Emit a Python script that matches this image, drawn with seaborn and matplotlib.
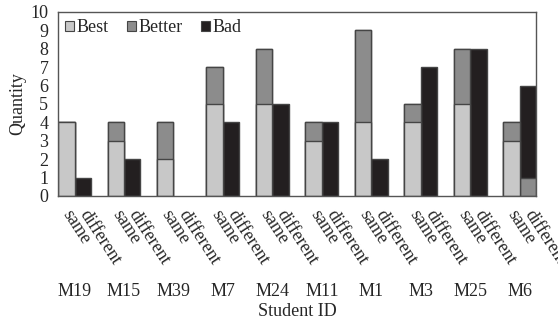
import numpy as np
import pandas as pd
import matplotlib
matplotlib.use("Agg")
import matplotlib.pyplot as plt
from matplotlib.patches import Patch
import seaborn as sns

# Student IDs and the two conditions per student
students = ['M19', 'M15', 'M39', 'M7', 'M24', 'M11', 'M1', 'M3', 'M25', 'M6']
conditions = ['same', 'different']

# counts per student: [same, different]
best = [[4, 0], [3, 0], [2, 0], [5, 0], [5, 0], [3, 0], [4, 0], [4, 0], [5, 0], [3, 0]]
better = [[0, 0], [1, 0], [2, 0], [2, 0], [3, 0], [1, 0], [5, 0], [1, 0], [3, 0], [1, 1]]
bad = [[0, 1], [0, 2], [0, 0], [0, 4], [0, 5], [0, 4], [0, 2], [0, 7], [0, 8], [0, 5]]

colors = {'Best': '#c8c8c8', 'Better': '#8c8c8c', 'Bad': '#231f20'}
edge = '#454545'

# long table, one row per bar
rows = []
for i, s in enumerate(students):
    for j, c in enumerate(conditions):
        b1, b2, b3 = best[i][j], better[i][j], bad[i][j]
        rows.append({'student': s, 'condition': c, 'pos': 3 * i + j + 0.5,
                     'Best': b1, 'Better': b1 + b2, 'Bad': b1 + b2 + b3})
df = pd.DataFrame(rows)

sns.set_style('white')
plt.rcParams['font.family'] = ['Liberation Serif', 'DejaVu Serif']
fs = 13

fig = plt.figure(figsize=(5.58, 3.2), dpi=100)
ax = fig.add_axes([0.104, 0.3875, 0.857, 0.575])

# stacked bars drawn as overlapping cumulative totals (tallest first)
for layer in ['Bad', 'Better', 'Best']:
    sns.barplot(data=df, x='pos', y=layer, native_scale=True, width=1.0,
                color=colors[layer], edgecolor=edge, linewidth=1.0,
                saturation=1, errorbar=None, ax=ax)

# empty segments get no outline
for p in ax.patches:
    if p.get_height() == 0:
        p.set_visible(False)

ax.set_xlim(0, 29)
ax.set_ylim(0, 10)
ax.set_yticks(range(0, 11))
ax.tick_params(axis='y', labelsize=fs, length=0, pad=7)
ax.set_ylabel('Quantity', fontsize=fs, labelpad=3)

ax.set_xticks(df['pos'])
ax.set_xticklabels(df['condition'], rotation=-57, ha='left', va='center',
                   rotation_mode='anchor', fontsize=fs)
ax.tick_params(axis='x', length=0, pad=11)
ax.set_xlabel('')

for i, s in enumerate(students):
    ax.text(3 * i + 1, -0.52, s, transform=ax.get_xaxis_transform(),
            ha='center', va='center', fontsize=fs)
ax.text(14.5, -0.625, 'Student ID', transform=ax.get_xaxis_transform(),
        ha='center', va='center', fontsize=fs)

for sp in ax.spines.values():
    sp.set_visible(True)
    sp.set_color('#555555')
    sp.set_linewidth(1.0)

handles = [Patch(facecolor=colors[k], edgecolor=edge, linewidth=0.8, label=k)
           for k in ['Best', 'Better', 'Bad']]
ax.legend(handles=handles, loc='upper left', ncol=3, frameon=False,
          fontsize=fs, handlelength=0.5, handleheight=0.5, handletextpad=0.15,
          columnspacing=1.0, borderaxespad=0.2, borderpad=0.2)

fig.savefig('out.png', dpi=100)
